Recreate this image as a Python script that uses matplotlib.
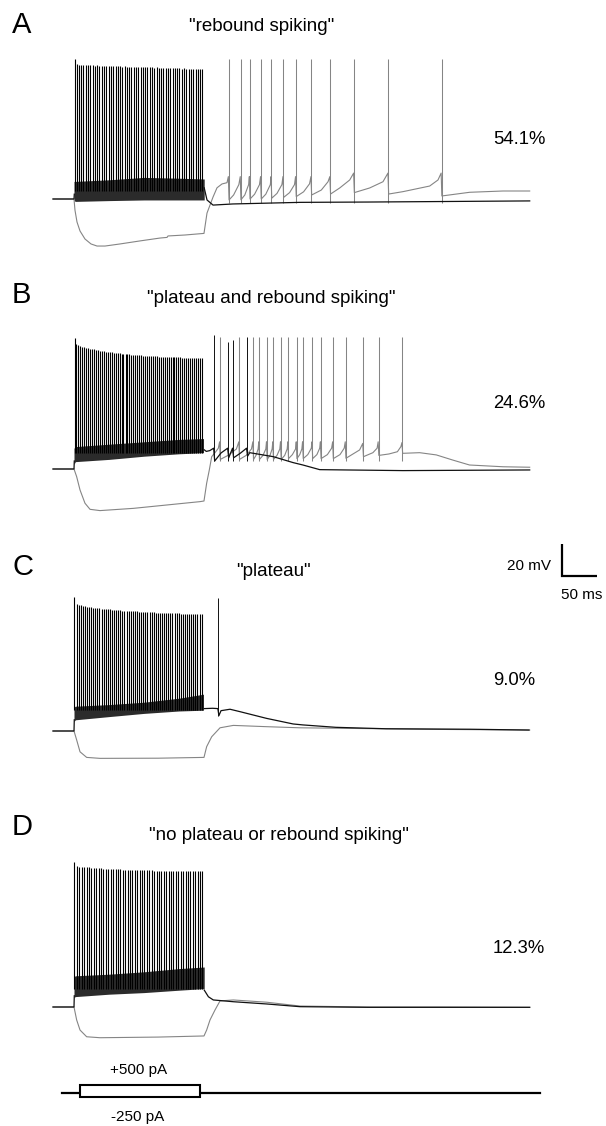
import matplotlib
matplotlib.use("Agg")
import matplotlib.pyplot as plt
from matplotlib.patches import Rectangle

plt.rcParams["font.family"] = ["Liberation Sans", "DejaVu Sans"]

# figure geometry (pixels) and trace scaling
W, H = 606, 1126
T0_PX = 53        # x pixel of t = 0 ms
PX_MS = 0.7       # pixels per ms
PX_MV = 1.6       # pixels per mV
V_REST = -65.0

letters = ["A", "B", "C", "D"]
titles = ['"rebound spiking"', '"plateau and rebound spiking"',
          '"plateau"', '"no plateau or rebound spiking"']
percents = ["54.1%", "24.6%", "9.0%", "12.3%"]

# ---- panel A : rebound spiking ----
spk_A = [31.0, 33.9, 37.1, 40.4, 43.5, 46.9, 50.0, 53.4, 56.6, 59.8,
         63.2, 66.3, 69.7, 72.9, 76.2, 79.4, 82.8, 85.9, 89.3, 92.4,
         95.8, 99.0, 102.3, 105.6, 108.8, 112.1, 115.4, 118.6, 121.9, 125.2,
         128.4, 131.8, 134.9, 138.3, 141.5, 144.8, 148.1, 151.3, 154.7, 157.8,
         161.2, 164.4, 167.7, 171.0, 174.2, 177.6, 180.7, 184.1, 187.3, 190.6,
         193.9, 197.1, 200.5, 203.6, 207.0, 210.2, 213.5]
pk_A = [22.5, 19.4, 19.0, 18.8, 18.9, 18.6, 18.7, 18.5, 18.6, 18.4,
        18.5, 18.3, 18.4, 18.2, 18.3, 18.1, 18.2, 18.0, 18.1, 17.9,
        18.0, 17.8, 17.9, 17.7, 17.8, 17.6, 17.7, 17.5, 17.6, 17.4,
        17.5, 17.3, 17.4, 17.2, 17.3, 17.1, 17.2, 17.0, 17.1, 16.9,
        17.0, 16.8, 16.9, 16.7, 16.8, 16.6, 16.7, 16.5, 16.6, 16.4,
        16.5, 16.3, 16.4, 16.2, 16.3, 16.1, 16.3]
band_A_t = [30, 32, 80, 130, 180, 216]
band_A_hi = [-54, -54, -53, -51.5, -52, -52.5]
band_A_lo = [-66, -66.5, -66, -65.6, -65.6, -65.6]
black_A_t = [216, 220, 228.6, 257, 353, 450, 681]
black_A_v = [-58, -65.6, -68.8, -68.1, -67.1, -66.9, -66.2]
gray_A_t = [0, 30, 31.4, 34.3, 38.6, 45.7, 54.3, 62.9, 74.3, 95.7, 124.3, 152.9, 162.9, 164.3, 188.6, 215.7,
            220, 228.6, 234.3, 241.4, 248.6, 250.5,
            251.5, 258, 265.5, 267.5,
            268.5, 274, 279.5, 280.5,
            281.5, 288, 295, 296.5,
            297.5, 304, 310.5, 311.5,
            312.5, 320, 327, 328.5,
            329.5, 338, 345, 346.5,
            347.5, 358, 366.5, 368.5,
            369.5, 383.3, 392.9, 395.5,
            396.5, 409.6, 423.9, 429.5,
            430.5, 452.4, 471.4, 478.5,
            479.5, 500, 538.1, 550, 554.5,
            555.5, 595.3, 642.9, 681]
gray_A_v = [-65, -65, -72, -79.4, -85, -90, -93.1, -94.4, -94.4, -93.1, -91.2, -89.4, -89, -88.1, -87.5, -86.5,
            -73.8, -63.8, -58, -55.6, -54.8, -51,
            -65.6, -62.5, -56, -51,
            -65.5, -62.5, -56, -51,
            -65, -62, -56, -51,
            -65, -62, -56, -51,
            -64.5, -61.5, -56, -51,
            -64, -61, -56, -51,
            -63.5, -60.5, -55.5, -51,
            -62.5, -59.4, -54.2, -51,
            -61.9, -58.1, -53.1, -48.8,
            -61, -58.1, -54.2, -48.8,
            -61.9, -60.4, -56.9, -53.1, -48.8,
            -63.1, -60.8, -60, -60]
gspk_A = [251, 268, 281, 297, 312, 329, 347, 369, 396, 430, 479, 555]

# ---- panel B : plateau and rebound spiking ----
spk_B = [30.8, 33.5, 36.4, 39.1, 41.9, 44.8, 47.5, 50.3, 53.2, 55.9,
         58.7, 61.6, 64.3, 67.1, 70.0, 72.7, 75.5, 78.4, 81.1, 83.9,
         86.8, 89.5, 92.3, 95.2, 97.9, 100.5, 103.6, 106.3, 109.1, 112.0,
         114.7, 117.5, 120.4, 123.1, 125.9, 128.8, 131.5, 134.3, 137.2, 139.9,
         142.7, 145.6, 148.3, 151.1, 154.0, 156.7, 159.5, 162.4, 165.1, 167.9,
         170.8, 173.5, 176.3, 179.2, 181.9, 184.7, 187.6, 190.3, 193.1, 196.0,
         198.7, 201.5, 204.4, 207.1, 209.9, 212.8]
pk_B = [16.8, 13.0, 12.4, 12.0, 11.5, 11.2, 10.8, 10.5, 10.2, 9.9,
        9.7, 9.4, 9.2, 9.0, 8.8, 8.6, 8.4, 8.2, 8.0, 7.9,
        7.7, 7.6, 7.4, 7.3, 7.1, 7.0, 6.9, 6.8, 6.6, 6.5,
        6.4, 6.3, 6.2, 6.1, 6.0, 5.9, 5.8, 5.7, 5.7, 5.6,
        5.5, 5.4, 5.4, 5.3, 5.2, 5.2, 5.1, 5.0, 5.0, 4.9,
        4.9, 4.8, 4.8, 4.7, 4.7, 4.6, 4.6, 4.5, 4.5, 4.5,
        4.4, 4.4, 4.4, 4.3, 4.3, 4.2]
band_B_t = [30, 32, 80, 130, 180, 215]
band_B_hi = [-52, -51, -49.5, -48, -46.5, -46]
band_B_lo = [-62, -60.4, -59, -57, -55.5, -54.8]
black_B_t = [216, 219, 224, 229.5, 231, 240, 249.5, 251, 256.5, 258, 268, 276.5, 278, 281,
             314.8, 343, 357, 381, 418.6, 500, 681]
black_B_v = [-53, -54, -53.5, -52, -60, -55, -52, -58, -52, -58, -55, -52, -57, -54.8,
             -57.3, -61, -62.5, -65.4, -65.6, -66, -65.6]
bspk_B = [230.5, 250.5, 257.5, 277.5]
bpk_B = [18.7, 14.6, 15.6, 17.7]
gray_B_t = [0, 30, 33.8, 38.6, 45.7, 52.9, 67.1, 114.8, 162.4, 210, 215.7,
            219.5, 223.3, 226.7, 231.4, 236.2, 238,
            239, 250, 262, 265.5,
            266.5, 276, 283.5, 285.5,
            286.5, 290, 293, 294,
            295, 300, 304, 305,
            306, 310, 313, 314,
            315, 320, 324, 325,
            326, 331, 334.5, 335.5,
            336.5, 342, 346.5, 347.5,
            348.5, 352.5, 355.5, 356.5,
            357.5, 364, 369, 370,
            371, 377, 381, 382,
            383, 392, 398, 399.5,
            400.5, 410, 416, 417.5,
            418.5, 428.6, 438, 442.5,
            443.5, 457, 463, 464.5,
            465.5, 480, 492, 497, 498.5,
            499.5, 523.8, 547.6, 571, 595, 642.9, 681]
gray_B_v = [-65, -65, -69.8, -78.1, -86.4, -90.2, -91, -89.6, -87.5, -85.4, -85,
            -73.9, -65.6, -57.3, -54.8, -52, -48,
            -59, -56.5, -52.5, -48,
            -59, -56.5, -52.5, -48,
            -59, -56.5, -52.5, -48,
            -59, -56.5, -52.5, -48,
            -59, -56.5, -52.5, -48,
            -59, -56.5, -52.5, -48,
            -59, -56.5, -52.5, -48,
            -58.5, -56, -52.5, -48,
            -58.5, -56, -52.5, -48,
            -58.5, -56, -52, -48,
            -58.5, -56, -52, -48,
            -58.5, -56, -52, -48,
            -58.5, -56, -52, -48,
            -58.3, -55.6, -53.1, -49,
            -57.3, -54.8, -52, -48,
            -56.5, -55.6, -54.2, -51, -48.5,
            -55.2, -54.8, -56.2, -59.4, -62.5, -63.6, -63.9]
gspk_B = [238.5, 266, 286, 294.5, 305.5, 314.5, 325.5, 336, 348, 357,
          370.5, 382.5, 400, 418, 443, 465, 499]

# ---- panel C : plateau ----
spk_C = [30.6, 33.6, 36.5, 39.5, 42.6, 45.5, 48.5, 51.4, 54.5, 57.4,
         60.4, 63.4, 66.3, 69.4, 72.3, 75.3, 78.3, 81.2, 84.3, 87.2,
         90.2, 93.2, 96.1, 99.2, 102.1, 105.1, 108.1, 111.0, 114.1, 117.0,
         120.0, 123.0, 125.9, 129.0, 131.9, 134.9, 137.9, 140.8, 143.9, 146.8,
         149.8, 152.8, 155.7, 158.8, 161.7, 164.7, 167.7, 170.6, 173.7, 176.6,
         179.6, 182.6, 185.5, 188.6, 191.5, 194.5, 197.5, 200.4, 203.5, 206.4,
         209.4, 212.4]
pk_C = [18.7, 14.5, 13.8, 13.5, 13.2, 13.0, 12.7, 12.5, 12.3, 12.1,
        12.0, 11.8, 11.7, 11.5, 11.4, 11.2, 11.1, 11.0, 10.9, 10.8,
        10.6, 10.5, 10.4, 10.3, 10.2, 10.1, 10.0, 9.9, 9.9, 9.8,
        9.7, 9.6, 9.5, 9.5, 9.4, 9.3, 9.2, 9.2, 9.1, 9.0,
        9.0, 8.9, 8.9, 8.8, 8.8, 8.7, 8.7, 8.6, 8.6, 8.5,
        8.5, 8.4, 8.4, 8.3, 8.3, 8.3, 8.2, 8.2, 8.1, 8.1,
        8.1, 8.0]
band_C_t = [30, 32, 80, 130, 180, 215]
band_C_hi = [-50, -49.5, -48.5, -47, -44.5, -42]
band_C_lo = [-59, -58, -56, -54, -52.5, -52]
black_C_t = [216, 228, 235.5, 237, 240, 252.9, 267, 305, 343, 357, 404, 476, 596, 680]
black_C_v = [-51, -50.8, -51, -55.4, -52.3, -51.4, -52.9, -57.1, -60.6, -61.2, -62.7, -63.6, -63.9, -64.4]
bspk_C = [236.2]
bpk_C = [17.9]
gray_C_t = [0, 30, 33.8, 38.6, 48.1, 67.1, 150, 215.7, 219.5, 226.7, 238.6, 257.6, 305, 352.9, 450, 550, 681]
gray_C_v = [-65, -65, -70.6, -78, -81.5, -82.1, -82, -81.5, -74.8, -68.6, -63, -61.5, -62.3, -63, -63.5, -64, -64.4]

# ---- panel D : no plateau or rebound spiking ----
spk_D = [30.7, 34.1, 37.6, 41.0, 44.5, 47.9, 51.4, 54.8, 58.3, 61.7,
         65.2, 68.6, 72.1, 75.5, 79.0, 82.4, 85.9, 89.3, 92.8, 96.2,
         99.7, 103.1, 106.6, 110.0, 113.5, 116.9, 120.4, 123.8, 127.3, 130.7,
         134.2, 137.6, 141.1, 144.5, 148.0, 151.4, 154.9, 158.3, 161.8, 165.2,
         168.7, 172.1, 175.6, 179.0, 182.5, 185.9, 189.4, 192.8, 196.3, 199.7,
         203.2, 206.6, 210.1, 213.5]
pk_D = [25.6, 23.2, 22.8, 22.6, 22.5, 22.3, 22.2, 22.0, 21.9, 21.8,
        21.7, 21.6, 21.5, 21.4, 21.3, 21.3, 21.2, 21.1, 21.0, 21.0,
        20.9, 20.9, 20.8, 20.8, 20.7, 20.7, 20.6, 20.6, 20.5, 20.5,
        20.4, 20.4, 20.4, 20.3, 20.3, 20.3, 20.2, 20.2, 20.2, 20.1,
        20.1, 20.1, 20.1, 20.0, 20.0, 20.0, 20.0, 20.0, 19.9, 19.9,
        19.9, 19.9, 19.9, 19.8]
band_D_t = [30, 32, 80, 130, 180, 216]
band_D_hi = [-46, -45.5, -44.5, -43, -41, -40]
band_D_lo = [-59, -58.5, -57, -56, -54.5, -53.5]
black_D_t = [216, 222, 229, 257.6, 305, 352.9, 450, 681]
black_D_v = [-54.4, -58.6, -60.6, -61.7, -63.1, -64.8, -65.2, -65.2]
gray_D_t = [0, 30, 33.8, 38.6, 48.1, 67.1, 150, 215.7, 219.5, 224.3, 231.4, 238.6, 257.6, 305, 352.9, 450, 550, 681]
gray_D_v = [-65, -65, -73.1, -79.4, -83.6, -84.2, -83.8, -83.1, -79.4, -73.1, -66.9, -61.2, -60.6, -62, -64.4, -65, -65, -65.2]

# stimulus protocol (ms, pA)
stim_line_ms = [12.9, 695.7]
stim_box_ms = [38.6, 210.0]
stim_pa = [500, -250]
stim_labels = ["+500 pA", "-250 pA"]

# scale bar
bar_ms, bar_mv = 50, 20

pre_t = [0, 30, 30.4]

panels = [
    dict(yb=199, spk=spk_A, pk=pk_A, floor=-60, band=(band_A_t, band_A_lo, band_A_hi),
         black=(black_A_t, black_A_v), bspk=[], bpk=[], bfloor=-60,
         gray=(gray_A_t, gray_A_v), gspk=gspk_A, gpk=22.5, gfloor=-67.5,
         pre_v=[-65, -65, -62], let_y=33, tit=(262, 31), pct_y=144),
    dict(yb=469, spk=spk_B, pk=pk_B, floor=-55, band=(band_B_t, band_B_lo, band_B_hi),
         black=(black_B_t, black_B_v), bspk=bspk_B, bpk=bpk_B, bfloor=-60,
         gray=(gray_B_t, gray_B_v), gspk=gspk_B, gpk=17.5, gfloor=-60,
         pre_v=[-65, -65, -60], let_y=303, tit=(271, 302.5), pct_y=408),
    dict(yb=731, spk=spk_C, pk=pk_C, floor=-52, band=(band_C_t, band_C_lo, band_C_hi),
         black=(black_C_t, black_C_v), bspk=bspk_C, bpk=bpk_C, bfloor=-55.4,
         gray=(gray_C_t, gray_C_v), gspk=[], gpk=0, gfloor=0,
         pre_v=[-65, -65, -58], let_y=575, tit=(273, 576.5), pct_y=685),
    dict(yb=1007, spk=spk_D, pk=pk_D, floor=-54, band=(band_D_t, band_D_lo, band_D_hi),
         black=(black_D_t, black_D_v), bspk=[], bpk=[], bfloor=-54,
         gray=(gray_D_t, gray_D_v), gspk=[], gpk=0, gfloor=0,
         pre_v=[-65, -65, -58], let_y=835, tit=(279, 839.5), pct_y=953),
]

GRAY = "#858585"
BLACK = "#111111"


def fx(px):
    return px / W


def fy(py):
    return 1 - py / H


fig = plt.figure(figsize=(W / 100, H / 100), dpi=100)
xlim = (-T0_PX / PX_MS, (W - T0_PX) / PX_MS)

axes = []
for i, p in enumerate(panels):
    ax = fig.add_axes([0, 0, 1, 1])
    ax.set_axis_off()
    ax.patch.set_alpha(0)
    ax.set_xlim(*xlim)
    ax.set_ylim(V_REST + (p["yb"] - H) / PX_MV, V_REST + p["yb"] / PX_MV)

    # hyperpolarising (grey) sweep
    gt, gv = p["gray"]
    ax.plot(gt, gv, color=GRAY, lw=0.8)
    if p["gspk"]:
        ax.vlines(p["gspk"], p["gfloor"], p["gpk"], color=GRAY, lw=0.75)

    # depolarising (black) sweep
    bt, blo, bhi = p["band"]
    ax.fill_between(bt, blo, bhi, color="#2b2b2b", lw=0)
    ax.vlines(p["spk"], p["floor"], p["pk"], color="black", lw=0.8)
    ax.plot(pre_t, p["pre_v"], color=BLACK, lw=0.9)
    ax.plot(p["black"][0], p["black"][1], color=BLACK, lw=0.9)
    if p["bspk"]:
        ax.vlines(p["bspk"], p["bfloor"], p["bpk"], color=BLACK, lw=0.7)
    axes.append(ax)

    fig.text(fx(12), fy(p["let_y"]), letters[i], fontsize=21, va="baseline", ha="left")
    fig.text(fx(p["tit"][0]), fy(p["tit"][1]), titles[i], fontsize=13.5, va="baseline", ha="center")
    fig.text(fx(493), fy(p["pct_y"]), percents[i], fontsize=13.3, va="baseline", ha="left")

# scale bar in panel C
axc = axes[2]
x0, y0 = 727, 31.9
axc.plot([x0, x0, x0 + bar_ms], [y0 + bar_mv, y0, y0], color="black", lw=1.6,
         solid_joinstyle="miter", solid_capstyle="butt")
fig.text(fx(551), fy(570), f"{bar_mv} mV", fontsize=11, ha="right", va="baseline")
fig.text(fx(561), fy(599), f"{bar_ms} ms", fontsize=11, ha="left", va="baseline")

# stimulus protocol
axs = fig.add_axes([0, 0, 1, 1])
axs.set_axis_off()
axs.patch.set_alpha(0)
axs.set_xlim(*xlim)
pa_per_px = 750 / 12.3
axs.set_ylim(-(H - 1093.3) * pa_per_px, 1093.3 * pa_per_px)
axs.plot(stim_line_ms, [0, 0], color="black", lw=1.6)
axs.add_patch(Rectangle((stim_box_ms[0], stim_pa[1]), stim_box_ms[1] - stim_box_ms[0],
                        stim_pa[0] - stim_pa[1], facecolor="white", edgecolor="black",
                        lw=1.5, zorder=3))
fig.text(fx(139), fy(1074), stim_labels[0], fontsize=11, ha="center", va="baseline")
fig.text(fx(138), fy(1121), stim_labels[1], fontsize=11, ha="center", va="baseline")

fig.savefig("out.png", dpi=100)
